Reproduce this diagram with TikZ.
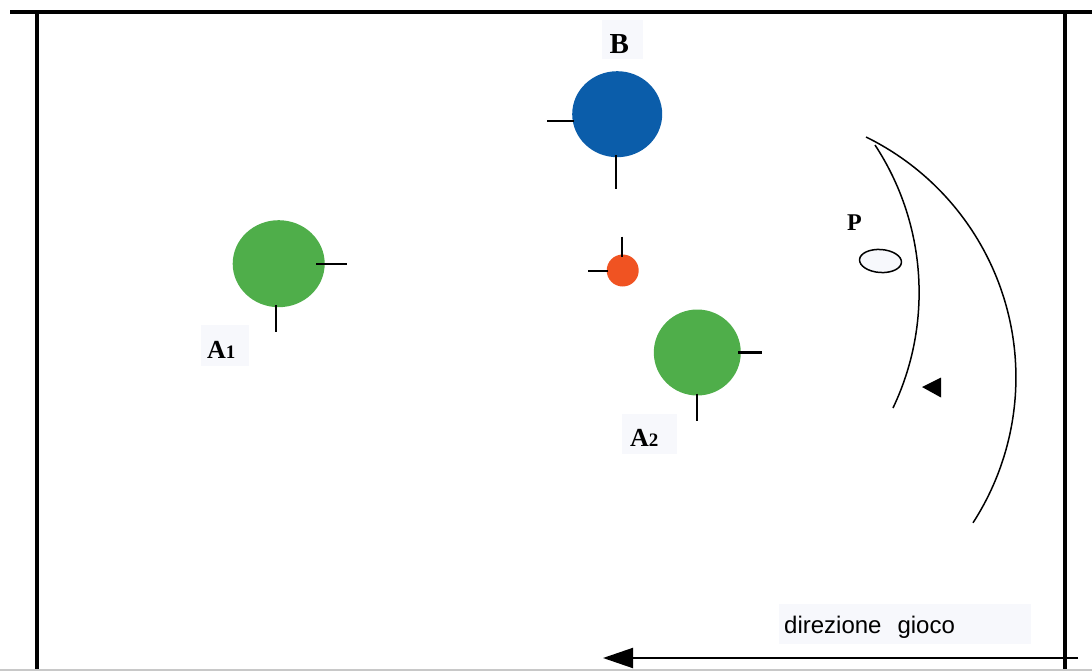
\documentclass[tikz,border=0pt]{standalone}
\usepackage{fontspec}
\setmainfont{Liberation Serif}
\setsansfont{Liberation Sans}
\usepackage{xcolor}
\usetikzlibrary{arrows.meta}
\usetikzlibrary{calc}
\usetikzlibrary{shapes}

\definecolor{attblue}{RGB}{11,93,170}
\definecolor{attgreen}{RGB}{79,174,74}
\definecolor{ballred}{RGB}{240,83,34}
\definecolor{labbg}{RGB}{247,248,252}
\definecolor{edgegray}{RGB}{200,200,200}

\begin{document}
\begin{tikzpicture}[x=1pt,y=1pt,yscale=-1,xscale=1,
  player/.style={ellipse,inner sep=0pt,draw=none},
  stick/.style={line width=2.2pt},
  border/.style={line width=3.2pt},
  arcline/.style={line width=1.5pt},
  lab/.style={fill=labbg,inner sep=0pt,anchor=base west,align=left,font=\bfseries}]
\useasboundingbox (0,0) rectangle (1092,671);

%Straight Lines: field border
\draw [border]  (10,12) -- (1092,12) ;
\draw [border]  (37,12) -- (37,671) ;
\draw [border]  (1065,12) -- (1065,671) ;
\draw [line width=2pt, edgegray]  (0,670) -- (1092,670) ;

%Shape: Ellipse (player B)
\node (B) [player, fill=attblue, minimum width=90pt, minimum height=86pt] at (617.2,114.2) {};
\draw [stick]  ($(B)+(-70,6.5)$) -- ($(B)+(-43,6.5)$) ;
\draw [stick]  ($(B)+(-1.5,41)$) -- ($(B)+(-1.5,75)$) ;
%Shape: Ellipse (player A1)
\node (A1) [player, fill=attgreen, minimum width=92pt, minimum height=87pt] at (278.7,263.7) {};
\draw [stick]  ($(A1)+(37.3,0.3)$) -- ($(A1)+(68.3,0.3)$) ;
\draw [stick]  ($(A1)+(-2.7,41.3)$) -- ($(A1)+(-2.7,68.3)$) ;
%Shape: Ellipse (player A2)
\node (A2) [player, fill=attgreen, minimum width=87pt, minimum height=86pt] at (697.3,352.5) {};
\draw [stick]  ($(A2)+(41,0)$) -- ($(A2)+(64.7,0)$) ;
\draw [stick]  ($(A2)+(-0.3,41)$) -- ($(A2)+(-0.3,68.3)$) ;
%Shape: Circle (ball)
\node (ball) [player, fill=ballred, minimum width=32pt, minimum height=32pt] at (622.7,270.5) {};
\draw [stick]  ($(ball)+(-0.4,-33.8)$) -- ($(ball)+(-0.4,-13.8)$) ;
\draw [stick]  ($(ball)+(-34.4,0.5)$) -- ($(ball)+(-14.4,0.5)$) ;

%Shape: Arc (goal area)
\draw [arcline]  (866,137) arc [start angle=-63.9, end angle=32.9, radius=267.7] ;
\draw [arcline]  (875,145) arc [start angle=-33.3, end angle=25.5, radius=268.6] ;
%Shape: Triangle
\fill  (922,387) -- (941,377.5) -- (941,397.5) -- cycle ;
%Shape: Ellipse (goalkeeper)
\node (keeper) [ellipse, draw, line width=1.5pt, fill=labbg, inner sep=0pt, minimum width=42pt, minimum height=23pt, rotate=-4] at (880.5,261) {};

%Straight Lines: play direction
\coordinate (dirS) at (1078,658) ;
\coordinate (dirE) at (603,658) ;
\draw [line width=2pt, -{Triangle[length=30pt,width=20pt]}]  (dirS) -- (dirE) ;

% Text Node
\node (labB) [lab, text width=41pt, text height=33.3pt, text depth=5.7pt] at (602,53.3) {\fontsize{29}{29}\selectfont\hspace*{7.3pt}B};
% Text Node
\node (labA1) [lab, text width=48pt, text height=33pt, text depth=8pt] at (201,358) {\fontsize{26}{26}\selectfont\hspace*{6pt}A{\fontsize{19}{19}\selectfont 1}};
% Text Node
\node (labA2) [lab, text width=55pt, text height=32.7pt, text depth=7.3pt] at (622,446.7) {\fontsize{26}{26}\selectfont\hspace*{8pt}A{\fontsize{19}{19}\selectfont 2}};
% Text Node
\node (labP) [anchor=base west, inner sep=0pt, font=\bfseries\fontsize{24}{24}\selectfont] at (847,230) {P};
% Text Node
\node (labDir) [lab, font=\sffamily\fontsize{24}{24}\selectfont, text width=252pt, text height=29.3pt, text depth=10.7pt] at (779,633.3) {\hspace*{5pt}direzione\ \ gioco};

\end{tikzpicture}
\end{document}
